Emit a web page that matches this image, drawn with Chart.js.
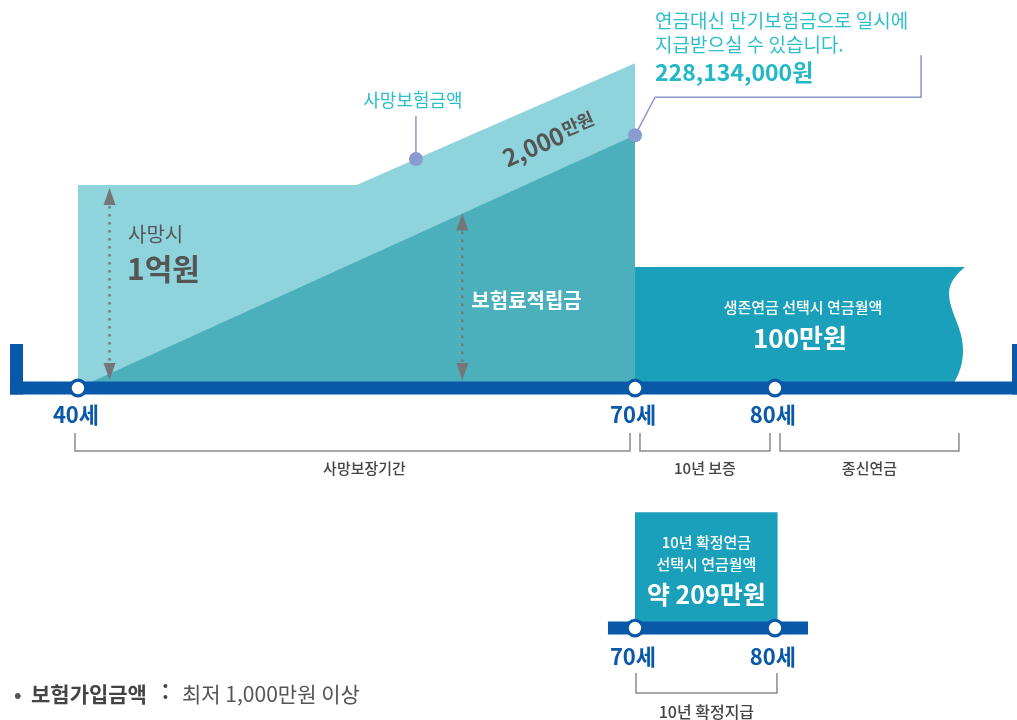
<!DOCTYPE html>
<html lang="ko">
<head>
<meta charset="utf-8">
<title>연금보험 구조</title>
<script src="https://cdn.jsdelivr.net/npm/chart.js@4.4.1/dist/chart.umd.min.js"></script>
<style>
  html, body { margin: 0; padding: 0; background: #fff; }
  #wrap { width: 1017px; height: 720px; }
</style>
</head>
<body>
<div id="wrap"><canvas id="pensionChart" width="1017" height="720"></canvas></div>
<script>
// schematic heights, 1억원 death benefit = 100
const benefitAges = [40, 55, 70];
const deathBenefit = [100, 100, 160];
const reserveAges = [40, 70];
const reserve = [0, 124.5];
const annuityAges = [70, 92.4];
const annuityLevel = [59.6, 59.6];
const fixedAges = [70, 80.2];
const fixedLevel = [57, 57];

const milestoneAges = [40, 70, 80];
const milestoneLabels = ['40세', '70세', '80세'];
const fixedStops = [70, 80];
const fixedStopLabels = ['70세', '80세'];

const periodLabels = ['사망보장기간', '10년 보증', '종신연금'];
const periodStart = [40, 70, 80];
const periodEnd = [70, 80, 93.5];

const benefitMark = [58.2, 112.8];   // 사망보험금액
const maturityMark = [70, 124.5];    // 만기보험금
const gapAge = 65.3;                 // where "2,000만원" sits

const BLUE = '#0a58a8';
const CYAN = '#2bbfcc';
const GREY = '#555555';
const KR = '"Noto Sans CJK KR", "Noto Sans", sans-serif';

const pts = (xs, ys) => xs.map((x, i) => ({ x, y: ys[i] }));

function area(label, xs, ys, color, order, xAxisID = 'x', yAxisID = 'y') {
  return {
    label, data: pts(xs, ys), xAxisID, yAxisID, order,
    backgroundColor: color, borderWidth: 0, pointRadius: 0, fill: 'origin'
  };
}

function rail(label, data, xAxisID, yAxisID) {
  return {
    label, data, xAxisID, yAxisID, order: 5,
    borderColor: BLUE, borderWidth: 13, borderCapStyle: 'butt',
    pointRadius: 0, fill: false
  };
}

function stops(label, ages, xAxisID, yAxisID) {
  return {
    label, data: ages.map(a => ({ x: a, y: 0 })), xAxisID, yAxisID, order: 2,
    showLine: false, pointRadius: 7.8, pointBorderWidth: 3.2,
    pointBackgroundColor: '#fff', pointBorderColor: BLUE
  };
}

function marks(label, list, order) {
  return {
    label, data: list.map(m => ({ x: m[0], y: m[1] })), order,
    showLine: false, pointRadius: 7, pointBorderWidth: 0,
    pointBackgroundColor: '#8a9bd1'
  };
}

const datasets = [
  area('사망보험금액', benefitAges, deathBenefit, '#8fd3dc', 9),
  area('보험료적립금', reserveAges, reserve, '#4bb0bc', 8),
  area('생존연금', annuityAges, annuityLevel, '#1aa0bb', 8, 'x2'),
  area('10년 확정연금', fixedAges, fixedLevel, '#1aa0bb', 8, 'x2', 'y2'),
  rail('timeline', [{ x: 36.34, y: 0 }, { x: 90.8, y: 0 }], 'x', 'y'),
  rail('leftEnd', [{ x: 36.69, y: 21.7 }, { x: 36.69, y: -3.2 }], 'x', 'y'),
  rail('rightEnd', [{ x: 90.65, y: 21.7 }, { x: 90.65, y: -3.2 }], 'x', 'y'),
  rail('fixedLine', [{ x: 68.07, y: 0 }, { x: 82.36, y: 0 }], 'x2', 'y2'),
  stops('stops', milestoneAges.filter(a => a <= 70), 'x', 'y'),
  stops('stopsLate', milestoneAges.filter(a => a > 70), 'x2', 'y'),
  stops('fixedStops', fixedStops, 'x2', 'y2'),
  marks('callouts', [benefitMark, maturityMark], 1)
];

function txt(ctx, s, x, y, font, color, align) {
  ctx.font = font;
  ctx.fillStyle = color;
  ctx.textAlign = align || 'left';
  ctx.fillText(s, x, y);
}

function dottedArrow(ctx, x, top, bottom) {
  ctx.save();
  ctx.strokeStyle = '#7a7a7e';
  ctx.fillStyle = '#76767a';
  ctx.lineWidth = 2.5;
  ctx.setLineDash([2.5, 5.5]);
  ctx.beginPath();
  ctx.moveTo(x, top + 18);
  ctx.lineTo(x, bottom - 18);
  ctx.stroke();
  ctx.setLineDash([]);
  [[top, 1], [bottom, -1]].forEach(([tip, dir]) => {
    ctx.beginPath();
    ctx.moveTo(x, tip);
    ctx.lineTo(x - 6, tip + dir * 17);
    ctx.lineTo(x + 6, tip + dir * 17);
    ctx.closePath();
    ctx.fill();
  });
  ctx.restore();
}

function bracket(ctx, left, right, top, bottom) {
  ctx.beginPath();
  ctx.moveTo(left, top);
  ctx.lineTo(left, bottom);
  ctx.lineTo(right, bottom);
  ctx.lineTo(right, top);
  ctx.stroke();
}

const annotations = {
  id: 'annotations',
  afterDatasetDraw(chart, args) {
    // wavy right edge of the life annuity block
    if (args.meta.label !== '생존연금') return;
    const { ctx } = chart;
    const xr = chart.scales.x2.getPixelForValue(annuityAges[1]);
    const top = chart.scales.y.getPixelForValue(annuityLevel[1]);
    const base = chart.scales.y.getPixelForValue(0);
    ctx.save();
    ctx.fillStyle = '#1aa0bb';
    ctx.beginPath();
    ctx.moveTo(xr - 1, top);
    ctx.lineTo(xr + 16.5, top);
    ctx.bezierCurveTo(xr + 9, top + 6, xr + 0.5, top + 15, xr + 0.5, top + 26);
    ctx.bezierCurveTo(xr + 0.5, top + 45, xr + 14.5, top + 60, xr + 14.5, top + 83);
    ctx.bezierCurveTo(xr + 14.5, top + 102, xr + 7, top + 114, xr + 1.5, base);
    ctx.lineTo(xr - 1, base);
    ctx.closePath();
    ctx.fill();
    ctx.restore();
  },
  afterDatasetsDraw(chart) {
    const { ctx } = chart;
    const X = v => chart.scales.x.getPixelForValue(v);
    const X2 = v => chart.scales.x2.getPixelForValue(v);
    const Y = v => chart.scales.y.getPixelForValue(v);
    const Y2 = v => chart.scales.y2.getPixelForValue(v);
    const base = Y(0);
    const base2 = Y2(0);
    ctx.save();
    ctx.textBaseline = 'alphabetic';

    // dotted height arrows
    const arrowAge = 41.7;
    dottedArrow(ctx, X(arrowAge), Y(deathBenefit[0]) + 3, base - 8);
    const midAge = 60.7;
    const resAtMid = reserve[1] * (midAge - reserveAges[0]) / (reserveAges[1] - reserveAges[0]);
    dottedArrow(ctx, X(midAge), Y(resAtMid), base - 8);

    // callout lines
    ctx.strokeStyle = '#8c96d0';
    ctx.lineWidth = 1.5;
    const bx = X(benefitMark[0]), by = Y(benefitMark[1]);
    ctx.beginPath();
    ctx.moveTo(bx, by - 43);
    ctx.lineTo(bx, by - 7);
    ctx.stroke();
    const mx = X(maturityMark[0]), my = Y(maturityMark[1]);
    const ex = mx + 20, ey = my - 38;
    const len = Math.hypot(ex - mx, ey - my);
    ctx.beginPath();
    ctx.moveTo(mx + (ex - mx) * 7 / len, my + (ey - my) * 7 / len);
    ctx.lineTo(ex, ey);
    ctx.lineTo(mx + 286, ey);
    ctx.lineTo(mx + 286, my - 80);
    ctx.stroke();

    // callout texts
    txt(ctx, '사망보험금액', bx - 3, by - 52, '400 18px ' + KR, CYAN, 'center');
    txt(ctx, '연금대신 만기보험금으로 일시에', ex, my - 107, '400 19px ' + KR, CYAN);
    txt(ctx, '지급받으실 수 있습니다.', ex, my - 83, '400 19px ' + KR, CYAN);
    txt(ctx, '228,134,000원', ex, my - 54, '700 23px ' + KR, '#22b8c6');

    // 2,000만원 along the slope
    const db = (deathBenefit[1] + (gapAge - benefitAges[1]) * (deathBenefit[2] - deathBenefit[1]) / (benefitAges[2] - benefitAges[1]));
    const rs = reserve[1] * (gapAge - reserveAges[0]) / (reserveAges[1] - reserveAges[0]);
    const gx = X(gapAge), gy = Y((db + rs) / 2);
    const ang = Math.atan2(Y(deathBenefit[2]) - Y(deathBenefit[1]), X(benefitAges[2]) - X(benefitAges[1]));
    ctx.save();
    ctx.translate(gx, gy);
    ctx.rotate(ang);
    ctx.textBaseline = 'middle';
    ctx.font = '700 24px ' + KR;
    const w1 = ctx.measureText('2,000').width;
    ctx.font = '700 18px ' + KR;
    const w2 = ctx.measureText('만원').width;
    txt(ctx, '2,000', -(w1 + w2) / 2, 2, '700 24px ' + KR, GREY);
    txt(ctx, '만원', -(w1 + w2) / 2 + w1 + 1, -1, '700 18px ' + KR, GREY);
    ctx.restore();

    // area labels
    txt(ctx, '사망시', X(40) + 50, Y(deathBenefit[0]) + 57, '400 20px ' + KR, GREY);
    txt(ctx, '1억원', X(40) + 49, Y(deathBenefit[0]) + 95, '700 30px ' + KR, GREY);
    txt(ctx, '보험료적립금', X(midAge) + 9, base - 80, '700 20px ' + KR, '#fff');
    const ax = X2(82);
    txt(ctx, '생존연금 선택시 연금월액', ax, base - 75, '500 15px ' + KR, '#fff', 'center');
    txt(ctx, '100만원', ax - 3, base - 40, '700 26px ' + KR, '#fff', 'center');

    // age labels
    milestoneAges.forEach((a, i) => {
      const px = a <= 70 ? X(a) : X2(a);
      txt(ctx, milestoneLabels[i], px - 2, base + 35, '700 22px ' + KR, BLUE, 'center');
    });

    // period brackets
    ctx.strokeStyle = '#8a8a8a';
    ctx.lineWidth = 1.5;
    periodLabels.forEach((label, i) => {
      const l = (periodStart[i] < 70 ? X(periodStart[i]) : X2(periodStart[i])) + (i === 0 ? -3 : 5);
      const r = (periodEnd[i] <= 70 ? X(periodEnd[i]) : X2(periodEnd[i])) - 5;
      bracket(ctx, l, r, base + 45, base + 63);
      txt(ctx, label, (l + r) / 2 + (i === 0 ? 12 : 0), base + 86, '500 15px ' + KR, '#444', 'center');
    });

    // 10-year fixed annuity panel
    const fx = (X2(fixedAges[0]) + X2(fixedAges[1])) / 2;
    txt(ctx, '10년 확정연금', fx, base2 - 80, '500 15px ' + KR, '#fff', 'center');
    txt(ctx, '선택시 연금월액', fx, base2 - 58, '500 15px ' + KR, '#fff', 'center');
    txt(ctx, '약 209만원', fx, base2 - 24, '700 25px ' + KR, '#fff', 'center');
    fixedStops.forEach((a, i) => {
      txt(ctx, fixedStopLabels[i], X2(a) - 2, base2 + 37, '700 22px ' + KR, BLUE, 'center');
    });
    bracket(ctx, X2(fixedStops[0]) + 1, X2(fixedStops[1]) + 2, base2 + 45, base2 + 65);
    txt(ctx, '10년 확정지급', fx, base2 + 90, '500 16px ' + KR, '#444', 'center');

    // footnote
    txt(ctx, '•', 14, 702, '700 20px ' + KR, GREY);
    txt(ctx, '보험가입금액', 31, 702, '700 21px ' + KR, '#444');
    txt(ctx, ':', 162, 700, '700 21px ' + KR, '#444');
    txt(ctx, '최저 1,000만원 이상', 182, 702, '400 21px ' + KR, GREY);

    ctx.restore();
  }
};

new Chart(document.getElementById('pensionChart'), {
  type: 'line',
  data: { datasets },
  options: {
    responsive: false,
    animation: false,
    events: [],
    layout: { padding: 0, autoPadding: false },
    elements: { line: { tension: 0 } },
    plugins: { legend: { display: false }, tooltip: { enabled: false } },
    scales: {
      x: { type: 'linear', display: false, min: 35.8, max: 90.57 },
      x2: { type: 'linear', display: false, min: 24.64, max: 97.29 },
      y: { type: 'linear', display: false, min: -163.5, max: 191.1 },
      y2: { type: 'linear', display: false, min: -45.3, max: 309.4 }
    }
  },
  plugins: [annotations]
});
</script>
</body>
</html>
